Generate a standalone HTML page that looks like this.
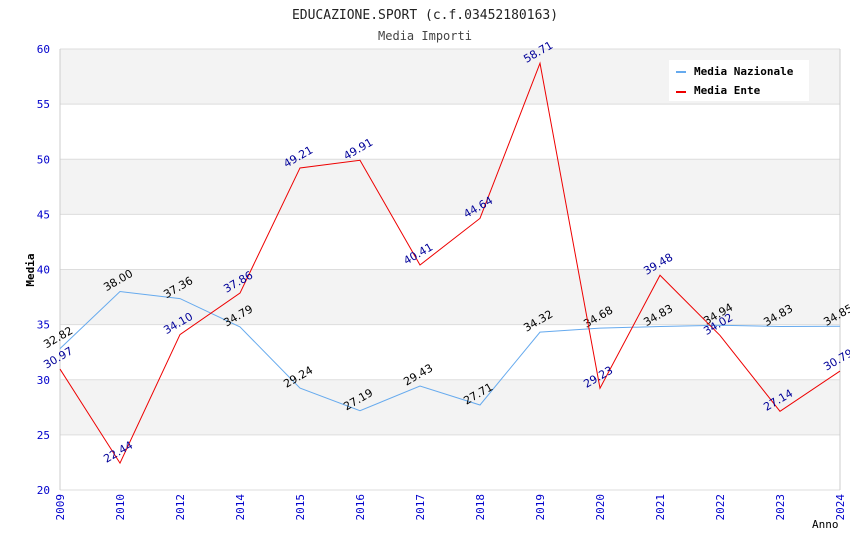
<!DOCTYPE html>
<html><head><meta charset="utf-8"><style>
body{margin:0;background:#fff;}
svg{display:block;font-family:"DejaVu Sans Mono","Liberation Mono",monospace;}
</style></head><body>
<svg id="chart" width="850" height="550">
<text x="425" y="19" text-anchor="middle" font-size="13" fill="#222">EDUCAZIONE.SPORT (c.f.03452180163)</text>
<text x="425" y="40" text-anchor="middle" font-size="12" fill="#444">Media Importi</text>
<g id="bands"></g>
<g id="yaxis"></g>
<g id="xaxis"></g>
<g id="series"></g>
<text x="34" y="270" font-size="11" font-weight="bold" fill="#000" transform="rotate(-90 34 270)" text-anchor="middle">Media</text>
<text x="812" y="528" font-size="11" fill="#000">Anno</text>
<g>
<rect x="669" y="60" width="140" height="41" fill="#fff"/>
<g><rect x="676" y="71" width="10" height="2" fill="#66aaee"/><text x="694" y="75" font-size="11" font-weight="bold">Media Nazionale</text></g>
<g><rect x="676" y="91" width="10" height="2" fill="#ee0000"/><text x="694" y="94" font-size="11" font-weight="bold">Media Ente</text></g>
</g>
</svg>
<script>
const categories=["2009","2010","2012","2014","2015","2016","2017","2018","2019","2020","2021","2022","2023","2024"];
const nazionale=[32.82,38.00,37.36,34.79,29.24,27.19,29.43,27.71,34.32,34.68,34.83,34.94,34.83,34.85];
const ente=[30.97,22.44,34.10,37.86,49.21,49.91,40.41,44.64,58.71,29.23,39.48,34.02,27.14,30.79];
const yTicks=[20,25,30,35,40,45,50,55,60];
const NS="http://www.w3.org/2000/svg";
const L=60,R=840,T=49,B=490,yMin=20,yMax=60;
const xs=i=>L+i*(R-L)/(categories.length-1);
const ys=v=>B-(v-yMin)/(yMax-yMin)*(B-T);
function mk(tag,attrs,parent){const e=document.createElementNS(NS,tag);for(const k in attrs)e.setAttribute(k,attrs[k]);parent.appendChild(e);return e;}
const bands=document.getElementById('bands'),ya=document.getElementById('yaxis'),xa=document.getElementById('xaxis'),sg=document.getElementById('series');
for(let i=0;i<yTicks.length-1;i++){
  const r=mk('rect',{x:L,y:ys(yTicks[i+1]),width:R-L,height:ys(yTicks[i])-ys(yTicks[i+1]),fill:(i%2===1)?'#f3f3f3':'#fff'},bands);
  
  
}
yTicks.forEach(t=>{
  const l=mk('line',{x1:L,x2:R,y1:ys(t),y2:ys(t),stroke:'#ddd'},ya);
  
  
  const tx=mk('text',{x:L-10,y:ys(t)+4,'text-anchor':'end','font-size':11,fill:'#0000cc'},ya);
  tx.textContent=t;
  
  
});
mk('line',{x1:L,x2:L,y1:T,y2:B,stroke:'#ccc'},ya);
mk('line',{x1:R,x2:R,y1:T,y2:B,stroke:'#ccc'},ya);
categories.forEach((c,i)=>{
  const x=xs(i);
  const tx=mk('text',{x:x+4,y:B+4,'text-anchor':'end','font-size':11,fill:'#0000cc',transform:`rotate(-90 ${x+4} ${B+4})`},xa);
  tx.textContent=c;
  
  
});
function drawSeries(vals,color,labelColor,name){
  const p=mk('polyline',{points:vals.map((v,i)=>xs(i)+','+ys(v)).join(' '),fill:'none',stroke:color,'stroke-width':1},sg);
  
  
  vals.forEach((v,i)=>{
    const x=xs(i),y=ys(v)-8;
    const t=mk('text',{x:x,y:y,'text-anchor':'middle','font-size':11,fill:labelColor,'font-family':'"DejaVu Sans",sans-serif',transform:`rotate(-30 ${x} ${y})`},sg);
    t.textContent=v.toFixed(2);
    
    
  });
}
drawSeries(nazionale,'#66aaee','#000','nazionale');
drawSeries(ente,'#ee0000','#000099','ente');
</script>
</body></html>
